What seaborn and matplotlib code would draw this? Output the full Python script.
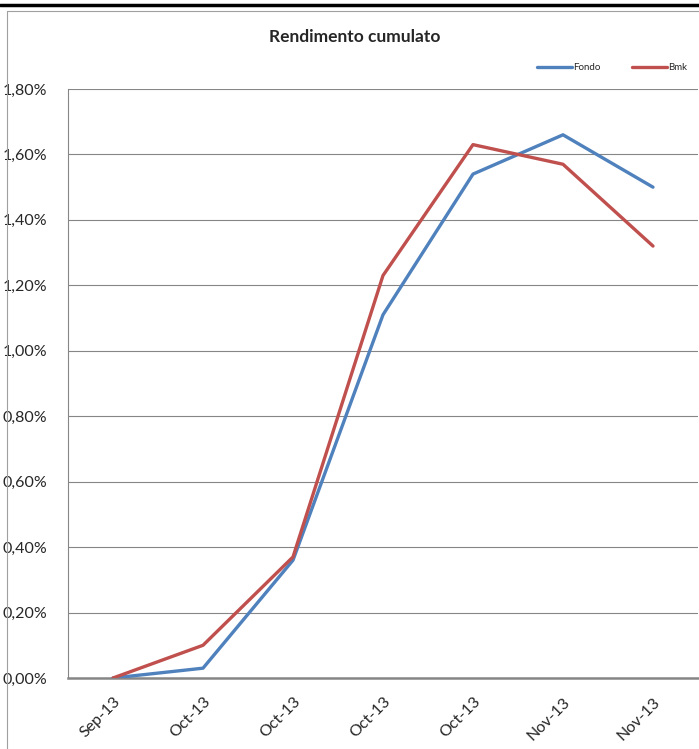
import pandas as pd
import numpy as np
import seaborn as sns
import matplotlib.pyplot as plt
from matplotlib.lines import Line2D

# data (cumulative return, %)
dates = ['Sep-13', 'Oct-13', 'Oct-13', 'Oct-13', 'Oct-13', 'Nov-13', 'Nov-13']
fondo = [0.00, 0.03, 0.36, 1.11, 1.54, 1.66, 1.50]
bmk = [0.00, 0.10, 0.37, 1.23, 1.63, 1.57, 1.32]
yticks = [0.0, 0.2, 0.4, 0.6, 0.8, 1.0, 1.2, 1.4, 1.6, 1.8]

df = pd.DataFrame({'pos': list(range(len(dates))) * 2,
                   'val': fondo + bmk,
                   'serie': ['Fondo'] * len(fondo) + ['Bmk'] * len(bmk)})

sns.set_style('white')
plt.rcParams['font.family'] = ['Lato', 'DejaVu Sans']

fig = plt.figure(figsize=(6.99, 7.49), dpi=100)
ax = fig.add_axes([68 / 699, 1 - 678 / 749, 630 / 699, (678 - 89) / 749])

pal = {'Fondo': '#4F81BD', 'Bmk': '#C0504D'}
sns.lineplot(data=df, x='pos', y='val', hue='serie', palette=pal, ax=ax,
             linewidth=2.4, legend=False, zorder=3)

ax.set_xlim(-0.5, len(dates) - 0.5)
ax.set_ylim(0, 1.8)
ax.set_yticks(yticks)
ax.set_yticklabels([('%.2f%%' % v).replace('.', ',') for v in yticks], fontsize=11.5)
ax.set_xticks(range(len(dates)))
ax.set_xticklabels(dates, rotation=45, ha='right', rotation_mode='anchor', fontsize=11.5)
ax.tick_params(axis='x', length=0, pad=12)
ax.tick_params(axis='y', length=0, pad=15)
ax.set_xlabel('')
ax.set_ylabel('')
ax.grid(axis='y', color='#868686', linewidth=0.8)
ax.set_axisbelow(True)
for s in ['top', 'right']:
    ax.spines[s].set_visible(False)
ax.spines['left'].set_color('#868686')
ax.spines['left'].set_linewidth(0.8)
ax.spines['bottom'].set_color('#868686')
ax.spines['bottom'].set_linewidth(1.8)

fig.text(355 / 699, 1 - 37 / 749, 'Rendimento cumulato', ha='center', va='center',
         fontsize=12.5, fontweight='bold')

handles = [Line2D([], [], color=pal['Fondo'], lw=2.4), Line2D([], [], color=pal['Bmk'], lw=2.4)]
fig.legend(handles, ['Fondo', 'Bmk'], loc='center', bbox_to_anchor=(612 / 699, 1 - 68 / 749),
           ncol=2, frameon=False, fontsize=7, handlelength=3.6, handletextpad=0.1,
           columnspacing=3.2)

# frame like the spreadsheet export
fig.add_artist(Line2D([0, 1], [1 - 5 / 749, 1 - 5 / 749], color='black', lw=2.5,
                      transform=fig.transFigure))
fig.add_artist(Line2D([7 / 699, 1], [1 - 11 / 749, 1 - 11 / 749], color='#a0a0a0', lw=0.8,
                      transform=fig.transFigure))
fig.add_artist(Line2D([7 / 699, 7 / 699], [0, 1 - 11 / 749], color='#a0a0a0', lw=0.8,
                      transform=fig.transFigure))

plt.savefig('out.png', dpi=100)
